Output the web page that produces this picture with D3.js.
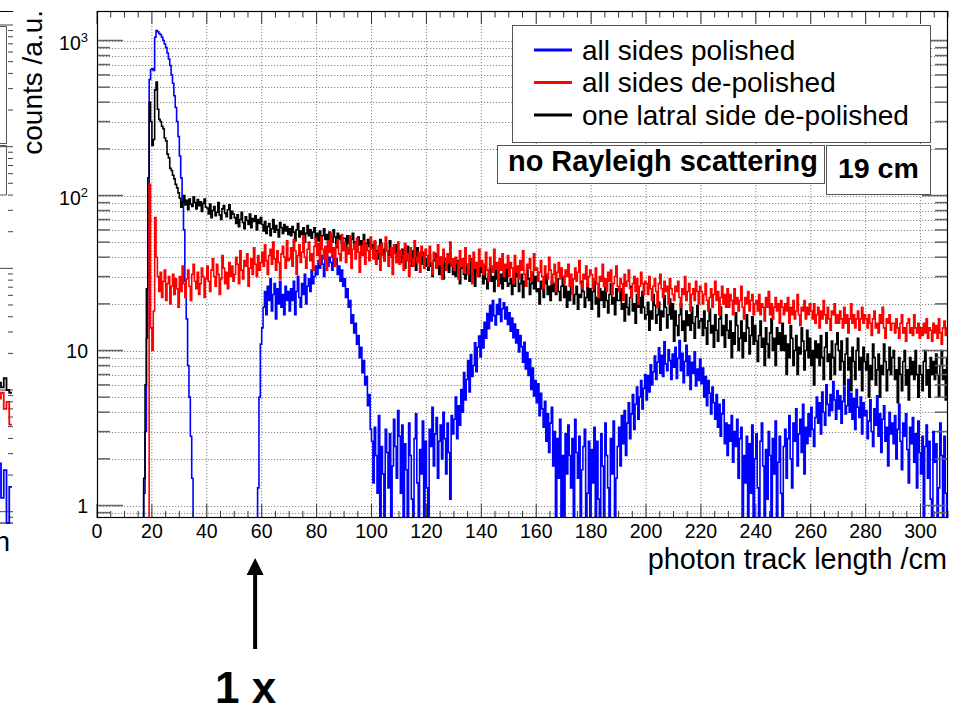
<!DOCTYPE html>
<html>
<head>
<meta charset="utf-8">
<script src="https://cdn.jsdelivr.net/npm/d3@7/dist/d3.min.js"></script>
<style>
  body { margin: 0; background: #fff; }
  svg { display: block; font-family: "Liberation Sans", Arial, Helvetica, sans-serif; }
</style>
</head>
<body>
<div id="my_dataviz"></div>
<script>

// histogram contents, 0.5 cm bins starting at 0 cm (one row = 10 cm)
const binStart = 0, binWidth = 0.5;

const blueCounts = [
  0,0,0,0,0,0,0,0,0,0,0,0,0,0,0,0,0,0,0,0,
  0,0,0,0,0,0,0,0,0,0,0,0,0,0,1.2,3,12,90,560,650,
  660,640,1050,1160,1140,1110,1090,1050,1000,950,900,830,760,690,600,530,440,370,300,240,
  180,130,90,60,28,16,8,5,2.8,1.5,0,0,0,0,0,0,0,0,0,0,
  0,0,0,0,0,0,0,0,0,0,0,0,0,0,0,0,0,0,0,0,
  0,0,0,0,0,0,0,0,0,0,0,0,0,0,0,0,0,1.3,5,11,
  14,19,24,17,26,21,29,18,23,27,16,25,20,28,19,23,17,26,21,24,
  18,25,21,28,17,24,30,22,19,27,23,31,20,26,29,24,33,27,30,35,
  31,38,34,41,36,30,39,43,35,40,37,33,41,36,39,31,35,28,33,26,
  29,22,25,19,21,15,17,13,15,11,12.5,9,10.5,7.2,8.6,6,6.8,4.4,5.2,3.1,
  2.6,1.4,3.2,2.1,1.2,3.8,0,2.4,1.6,0,3.1,2.2,1.3,2.9,0,1.8,3.6,2.4,1.5,4.1,
  2.8,1.2,3.3,0,2.5,1.7,0,3.4,2.1,1.1,0,2.7,3.9,1.4,0,2.3,1.6,3.5,0,2.6,
  1.3,0,3.1,2.4,4.3,1.8,2.9,3.7,1.5,2.6,3.3,2,4,2.7,1.6,3.4,2.2,1.1,3.8,2.9,
  3.6,5,2.7,4.4,3.3,5.6,4,7.2,4.8,6.5,8.6,5.4,9.4,6.8,8,11.2,7.3,10.5,12.4,9.1,
  13.6,10.4,15.2,12,17.3,13.8,19.6,15.5,21,16.8,14.6,19.8,17.1,21.5,15.4,18.6,20.3,16,19.1,14.7,
  17.5,13.3,16.2,12.1,14.8,11.2,13.6,9.8,12.5,10.6,8.4,11.3,7.6,9.7,6.9,8.8,5.6,7.7,5.1,6.4,
  4.6,6.1,3.8,5.3,4.2,3.2,4.7,2.6,3.9,2.2,3.4,4.3,1.8,3,0,2.7,1.5,3.6,0,2.1,
  0,2.9,1.6,3.3,2.1,1.3,2.7,0,3.6,2.2,1.5,2.8,0,1.7,2.4,3.1,0,1.2,2.6,0,
  2.3,1.4,3.2,0,2.6,1.1,0,2.9,1.8,0,3.4,2.1,1.3,0,2.7,1.6,3.5,0,1.5,2.4,
  3.2,1.8,3.8,2.5,4.1,2.1,3.4,4.6,2.7,3.9,5.2,3.1,4.5,5.8,3.6,5,6.4,4.2,5.7,7,
  4.8,6.9,5.4,8.1,6,7.3,9.2,6.5,8.4,10.4,7.1,9.3,6.8,11.4,8.2,7.4,10.1,8.6,6.5,9.5,
  7.8,10.5,6.6,8.9,11.6,7.4,9.6,6.2,8.5,10.8,6.9,9.2,5.6,8.4,7.1,9.8,5.9,7.6,6.4,8.8,
  6.1,7.7,5,6.8,4.4,6.4,5.3,3.9,5.8,4.6,3.6,5.2,3.2,4.5,2.8,3.9,4.8,2.5,3.4,2.1,
  3.3,2.6,3.8,1.9,3,2.4,3.6,1.5,2.7,3.2,0,2.1,1.4,2.8,0,2.5,1.2,3.3,0,2,
  2.9,1.3,0,2.6,3.4,1.8,0,2.3,1.1,3,2.1,0,2.7,1.6,3.5,0,1.9,2.8,1.2,0,
  2.4,3.1,1.5,2.7,3.8,2,1.3,3.4,2.6,4.2,1.8,2.9,3.6,2.2,4.5,1.6,3.2,2.5,3.9,2.8,
  4.3,3.1,2.4,3.7,5,3.4,4.6,2.9,5.4,4,3.3,6,4.5,3.8,5.2,4.1,6.3,4.8,3.6,5.5,
  4.2,5.1,3.4,4.7,5.8,3.9,4.4,6.5,4,5.3,3.6,4.9,3.1,5.6,4.3,3.7,5,2.9,4.6,3.8,
  4.1,2.7,3.5,4.8,3,2.4,4.2,3.3,5.1,2.8,3.9,2.2,3.6,4.4,2.6,3.2,1.8,4,2.9,3.4,
  2.5,3.8,2,3.1,4.5,2.6,1.7,3.4,2.8,3.9,2.3,1.4,3.2,2.5,3.7,1.9,2.9,1.3,3.5,2.2,
  1.6,2.8,0,2.4,3.3,1.5,2.6,1.1,0,3,1.9,2.5,0,1.3,3.4,2.1,0,2.8,1.2,0
];

const redCounts = [
  0,0,0,0,0,0,0,0,0,0,0,0,0,0,0,0,0,0,0,0,
  0,0,0,0,0,0,0,0,0,0,0,0,0,0,0,0,0,0,118,14,
  10,18,72,40,30,24,32,22,28,33,21,27,30,20,26,31,23,29,25,19,
  30,24,35,27,22,29,33,26,21,31,36,28,25,32,23,27,34,30,22,29,
  35,28,24,33,39,30,26,36,31,23,29,41,34,27,32,25,37,30,35,28,
  31,40,36,27,44,33,29,38,35,42,26,34,39,31,46,36,30,41,33,37,
  43,35,48,38,31,41,45,36,50,39,33,44,37,29,42,47,40,34,51,38,
  39,46,35,52,44,31,41,48,37,43,55,40,34,45,50,38,42,33,47,53,
  41,49,36,54,45,39,47,33,51,43,57,40,46,35,48,52,42,38,56,44,
  50,37,46,42,55,34,45,49,39,53,43,32,47,41,51,36,48,44,38,54,
  45,39,51,36,43,47,33,49,41,38,54,44,35,40,46,31,48,42,37,50,
  36,44,41,33,49,38,42,30,46,39,35,51,40,37,43,32,47,41,34,45,
  41,35,47,37,31,43,39,34,48,36,40,29,45,38,33,42,37,50,35,39,
  33,40,37,29,44,35,39,32,46,36,31,41,38,27,43,34,37,30,45,35,
  38,31,36,43,33,28,40,35,32,45,34,37,26,39,33,42,30,36,34,41,
  30,37,34,27,41,32,35,29,38,33,44,31,26,36,34,39,28,32,42,33,
  34,28,32,38,30,25,35,31,29,40,33,27,31,36,24,32,37,29,34,30,
  27,33,30,36,26,31,23,29,34,28,32,38,27,25,31,29,35,26,30,33,
  31,25,29,34,27,22,30,28,36,26,29,24,32,28,33,23,27,30,35,26,
  24,29,27,21,31,26,28,33,25,22,27,30,24,29,20,26,32,27,23,28,
  27,23,30,25,21,26,29,24,19,27,31,25,22,28,24,26,20,29,25,23,
  21,26,24,28,22,19,25,23,30,21,24,27,18,23,25,21,28,24,20,26,
  24,20,23,27,21,18,22,25,19,23,28,21,24,17,22,26,20,23,19,25,
  19,23,21,17,25,20,22,18,21,26,19,16,22,20,24,18,21,23,17,20,
  21,18,23,17,20,19,15.5,22,19,24,17,20,16,19,22,18,20,15,21,19,
  17,20,18,22,15,19,17,21,16,18,23,17,14.5,19,18,21,16,19,17,20,
  18,16,20,15,17,19,14,18,16,21,17,15,19,16,13.5,18,17,20,15,17,
  15,18,16,14,19,15,17,13,16,20,15,17,14,16,18,13.5,16,19,15,17,
  16,14,17,15,12.5,16,18,14,15,13,17,15,19,14,12,16,15,17,13.5,15,
  15,13,16,14,12,15,17,13,14,11.5,15,16,13,14,12.5,17,14,13,15,12,
  14,12.5,15,13,16,12,14,13.5,11.5,15,13,14.5,12,16,13,11,14,15.5,12.5,14
];

const blackCounts = [
  0,0,0,0,0,0,0,0,0,0,0,0,0,0,0,0,0,0,0,0,
  0,0,0,0,0,0,0,0,0,0,0,0,0,0,1.5,6,25,130,400,300,
  210,230,480,540,360,310,300,280,270,235,225,185,175,150,145,135,128,118,112,104,
  96,84,91,100,87,93,81,95,88,85,98,90,82,94,86,91,79,89,95,84,
  83,76,88,72,80,85,74,78,90,75,70,82,86,77,73,81,87,71,79,76,
  72,66,75,63,70,78,67,61,73,69,65,76,62,71,68,74,60,70,66,72,
  65,59,68,57,63,66,55,61,70,58,64,60,54,67,62,57,65,59,63,56,
  61,55,63,58,51,60,66,54,59,56,62,50,57,64,55,60,53,58,62,52,
  57,51,59,48,55,61,52,56,47,58,53,50,60,54,46,57,52,55,49,53,
  53,46,55,49,43,52,57,47,50,44,54,48,51,42,56,49,45,52,47,50,
  48,42,50,44,39,47,52,43,45,38,49,44,41,51,40,46,43,48,37,44,
  43,37,45,39,34,42,47,38,41,35,44,40,33,46,38,41,36,43,39,35,
  39,33,41,35,30,38,42,34,37,31,40,36,29,39,34,37,32,42,35,31,
  35,30,38,32,27,34,37,31,29,36,33,28,39,31,34,26,35,32,30,36,
  32,27,35,29,25,31,34,28,30,24,33,29,36,27,31,25,32,28,34,26,
  27,29,23,28,26,34,30,24,27,31,22,28,26,33,29,23,27,32,25,30,
  24,25,20,28,25,22,27,31,23,26,21,28,24,27,23,29,24,21,26,30,
  22,26,19,24,21,29,25,20,23,26,18.5,23,22,28,24,19,22,27,21,25,
  18.5,24,28,20,22,16.5,25,21,24,19,26,21,17.5,23,27,20,22,17,25,21,
  21,25,18.5,20,15.5,23,19,17,22,26,18,20,15,23,19,22,17.5,24,19,16,
  17,20.5,13.5,18,16,23,19.5,15,17,20.5,13.5,18,16.5,22.5,19,14,17,21.5,16,20,
  11.5,18,14.5,12.5,17,20,13.5,15.5,11.5,18,14.5,17,13.5,19,15,12,16.5,19.5,14,15.5,
  16,12.5,18,14,11,15.5,18.5,13,14.5,10.5,17,13.5,11.5,16,19,12.5,14.5,10.5,17,13.5,
  12,15.5,9,13,11,17.5,14.5,10,12,15.5,9,13,11.5,17,14,9.5,12.5,16.5,11,14.5,
  11.5,8.5,12.5,15.5,10.5,12,8,14,11,9,13,16,10,12,8,14,11,13,10,15,
  10,12.5,7,11,9,14.5,12,8,10,12.5,7,10.5,9.5,14,11.5,7.5,10,13.5,9,12,
  8,10,6,11.5,9,11,8,12.5,9,6.5,10.5,13,8.5,9.5,6.5,11.5,9,7,11,13,
  10,7.5,11.5,8.5,6,9.5,12,7.5,9,5.5,10.5,8.5,6.5,10,12,7.5,9,5.5,10.5,8.5,
  7.5,9.5,5,8,6.5,11,9,6,7.5,9.5,5,8,7,11,8.5,5.5,7.5,10.5,7,9,
  10,6.5,7.5,4.6,9,7,5.5,8.5,10,6,7.5,4.8,9,7,8.5,6.5,10,7,5,8,
  7,5.5,8.5,10,6,7.5,5,9,7,8.5,6.5,9.5,7,5,8,10,6.5,7.5,4.8,9
];

const seriesNames = ["all sides polished", "all sides de-polished", "one latral side de-polished"];
const seriesColors = ["#0000ff", "#ff0000", "#000000"];

const xTicks = [0, 20, 40, 60, 80, 100, 120, 140, 160, 180, 200, 220, 240, 260, 280, 300];
const yMajor = [1, 10, 100, 1000];
const yLabelBase = ["1", "10", "10", "10"];
const yLabelExp = ["", "", "2", "3"];

// the neighbouring panel, cut off at the left edge (1 cm bins, 300..309 cm)
const leftRed = [8, 10, 7, 9, 11, 8.5, 9.5, 7, 8, 5.2];
const leftBlack = [11, 9.5, 12, 10, 13, 11.5, 10.5, 12.5, 10, 9.5];
const leftBlue = [1.8, 2.4, 1.2, 2.6, 0, 2.5, 1.3, 2.2, 0, 1.6];

// dim
const W = 964, H = 711;
const frame = {left: 97, right: 948, top: 11, bottom: 518};
const yMin = 0.8306, yMax = 1550;

const svg = d3.select("#my_dataviz")
  .append("svg")
    .attr("width", W)
    .attr("height", H);

const x = d3.scaleLinear().domain([0, 310]).range([frame.left, frame.right]);
const y = d3.scaleLog().domain([yMin, yMax]).range([frame.bottom, frame.top]).clamp(true);

// left panel scales
const lx = d3.scaleLinear().domain([300, 310]).range([-15.5, 12]);
const ly = d3.scaleLog().domain([0.8075, 13030]).range([523, 11]).clamp(true);

const stepLine = (xs, ys, lo) => d3.line()
  .x(d => xs(d[0]))
  .y(d => ys(Math.max(d[1], lo)))
  .curve(d3.curveStepAfter);

function steps(counts, start, w) {
  const pts = counts.map((c, i) => [start + i * w, c]);
  pts.push([start + counts.length * w, counts[counts.length - 1]]);
  return pts;
}

//---------- left panel fragment
const lp = svg.append("g");
lp.append("line").attr("x1", 0).attr("x2", 13).attr("y1", 11.5).attr("y2", 11.5).attr("stroke", "#000");
lp.append("line").attr("x1", 0).attr("x2", 13).attr("y1", 523).attr("y2", 523).attr("stroke", "#000");
lp.selectAll(".lmin")
  .data(ly.ticks().filter(v => Math.abs(Math.log10(v) - Math.round(Math.log10(v))) > 1e-6))
  .join("line")
    .attr("x1", 8).attr("x2", 13)
    .attr("y1", d => ly(d)).attr("y2", d => ly(d))
    .attr("stroke", "#444");
lp.selectAll(".lmaj")
  .data([1, 10, 100, 1000, 10000])
  .join("line")
    .attr("x1", 0).attr("x2", 13)
    .attr("y1", d => ly(d)).attr("y2", d => ly(d))
    .attr("stroke", "#444");
// its legend boxes
lp.append("path").attr("d", "M0,26.5H6.5V143.5H0").attr("fill", "none").attr("stroke", "#555");
lp.append("path").attr("d", "M0,145.5H6.5V195H0").attr("fill", "none").attr("stroke", "#555");
[[leftBlue, "#0000ff"], [leftBlack, "#000"], [leftRed, "#ff0000"]].forEach(([c, col]) => {
  lp.append("path")
    .attr("d", stepLine(lx, ly, 0.8075)(steps(c, 300, 1)))
    .attr("fill", "none").attr("stroke", col).attr("stroke-width", 1.8);
});
lp.append("text").attr("x", 10).attr("y", 551).attr("text-anchor", "end")
  .attr("font-size", 28).text("n");

//---------- grid
const grid = svg.append("g")
  .attr("stroke", "#888").attr("stroke-width", 1).attr("stroke-dasharray", "1.2,1.8");
grid.selectAll(".gx")
  .data(xTicks.filter(v => v > 0))
  .join("line")
    .attr("x1", d => x(d)).attr("x2", d => x(d))
    .attr("y1", frame.top).attr("y2", frame.bottom);
grid.selectAll(".gy")
  .data(y.ticks())
  .join("line")
    .attr("x1", frame.left).attr("x2", frame.right)
    .attr("y1", d => Math.round(y(d)) + 0.5).attr("y2", d => Math.round(y(d)) + 0.5);

//---------- histograms
svg.append("clipPath").attr("id", "clip")
  .append("rect")
    .attr("x", frame.left).attr("y", frame.top)
    .attr("width", frame.right - frame.left).attr("height", frame.bottom - frame.top);

const hist = svg.append("g").attr("clip-path", "url(#clip)");
[[blueCounts, seriesColors[0]], [blackCounts, seriesColors[2]], [redCounts, seriesColors[1]]].forEach(([c, col]) => {
  hist.append("path")
    .attr("d", stepLine(x, y, yMin)(steps(c, binStart, binWidth)))
    .attr("fill", "none")
    .attr("stroke", col)
    .attr("stroke-width", 1.6);
});

//---------- axes, ticks
const minorX = d3.range(0, 311, 5).filter(v => v % 20 !== 0);
const yMinor = y.ticks().filter(v => !yMajor.includes(v));
const ticks = svg.append("g").attr("stroke", "#333").attr("stroke-width", 1);

// bottom + top
ticks.selectAll(".bx").data(xTicks).join("line")
  .attr("x1", d => x(d)).attr("x2", d => x(d))
  .attr("y1", frame.bottom).attr("y2", frame.bottom - 14);
ticks.selectAll(".bxm").data(minorX).join("line")
  .attr("x1", d => x(d)).attr("x2", d => x(d))
  .attr("y1", frame.bottom).attr("y2", frame.bottom - 7);
ticks.selectAll(".tx").data(xTicks).join("line")
  .attr("x1", d => x(d)).attr("x2", d => x(d))
  .attr("y1", frame.top).attr("y2", frame.top + 13);
ticks.selectAll(".txm").data(minorX).join("line")
  .attr("x1", d => x(d)).attr("x2", d => x(d))
  .attr("y1", frame.top).attr("y2", frame.top + 6.5);

// left + right
const yt = svg.append("g").attr("stroke", "#666").attr("stroke-width", 1.5);
yt.selectAll(".ly").data(yMajor).join("line")
  .attr("x1", frame.left).attr("x2", frame.left + 26)
  .attr("y1", d => y(d)).attr("y2", d => y(d));
yt.selectAll(".lym").data(yMinor).join("line")
  .attr("x1", frame.left).attr("x2", frame.left + 13)
  .attr("y1", d => y(d)).attr("y2", d => y(d));
yt.selectAll(".ry").data(yMajor).join("line")
  .attr("x1", frame.right).attr("x2", frame.right - 26)
  .attr("y1", d => y(d)).attr("y2", d => y(d));
yt.selectAll(".rym").data(yMinor).join("line")
  .attr("x1", frame.right).attr("x2", frame.right - 13)
  .attr("y1", d => y(d)).attr("y2", d => y(d));

// frame
svg.append("rect")
  .attr("x", frame.left + 0.5).attr("y", frame.top + 0.5)
  .attr("width", frame.right - frame.left - 1).attr("height", frame.bottom - frame.top - 1)
  .attr("fill", "none").attr("stroke", "#000").attr("stroke-width", 1.2);

// tick labels
svg.append("g").attr("font-size", 19.5).attr("text-anchor", "middle")
  .selectAll("text").data(xTicks).join("text")
    .attr("x", d => x(d)).attr("y", 537.5)
    .text(d => d);

const yl = svg.append("g").attr("font-size", 19.5).attr("text-anchor", "end");
yMajor.forEach((v, i) => {
  const t = yl.append("text")
    .attr("x", 88)
    .attr("y", y(v) + (yLabelExp[i] ? 9 : 7));
  t.append("tspan").text(yLabelBase[i]);
  if (yLabelExp[i]) t.append("tspan").attr("font-size", 13).attr("dy", -8).text(yLabelExp[i]);
});

// axis titles
svg.append("text")
  .attr("x", 947).attr("y", 569)
  .attr("text-anchor", "end")
  .attr("font-size", 28.8)
  .text("photon track length /cm");

svg.append("text")
  .attr("transform", "translate(42,10) rotate(-90)")
  .attr("text-anchor", "end")
  .attr("font-size", 28)
  .text("counts /a.u.");

//---------- legend
const leg = svg.append("g");
leg.append("rect")
  .attr("x", 512.5).attr("y", 25.5).attr("width", 418).attr("height", 117)
  .attr("fill", "#fff").attr("stroke", "#555");
seriesNames.forEach((name, i) => {
  const by = 59.5 + i * 32.5;
  leg.append("line")
    .attr("x1", 534).attr("x2", 572)
    .attr("y1", by - 9.5).attr("y2", by - 9.5)
    .attr("stroke", seriesColors[i]).attr("stroke-width", 3);
  leg.append("text")
    .attr("x", 582).attr("y", by)
    .attr("font-size", 28)
    .text(name);
});

// info boxes
leg.append("rect")
  .attr("x", 497.5).attr("y", 145.5).attr("width", 327).attr("height", 38)
  .attr("fill", "#fff").attr("stroke", "#555");
leg.append("text")
  .attr("x", 508).attr("y", 170.5)
  .attr("font-size", 28.9).attr("font-weight", "bold")
  .text("no Rayleigh scattering");
leg.append("rect")
  .attr("x", 826.5).attr("y", 145.5).attr("width", 104).attr("height", 49)
  .attr("fill", "#fff").attr("stroke", "#555");
leg.append("text")
  .attr("x", 838).attr("y", 178)
  .attr("font-size", 28.5).attr("font-weight", "bold")
  .text("19 cm");

//---------- arrow + note
svg.append("line")
  .attr("x1", x(57.6)).attr("x2", x(57.6))
  .attr("y1", 574).attr("y2", 649)
  .attr("stroke", "#000").attr("stroke-width", 4);
svg.append("path")
  .attr("d", `M${x(57.6)},558 L${x(57.6) - 8.5},575 L${x(57.6) + 8.5},575 Z`)
  .attr("fill", "#000");
svg.append("text")
  .attr("x", 215).attr("y", 703)
  .attr("font-size", 44).attr("font-weight", "bold")
  .text("1 x");

</script>
</body>
</html>
